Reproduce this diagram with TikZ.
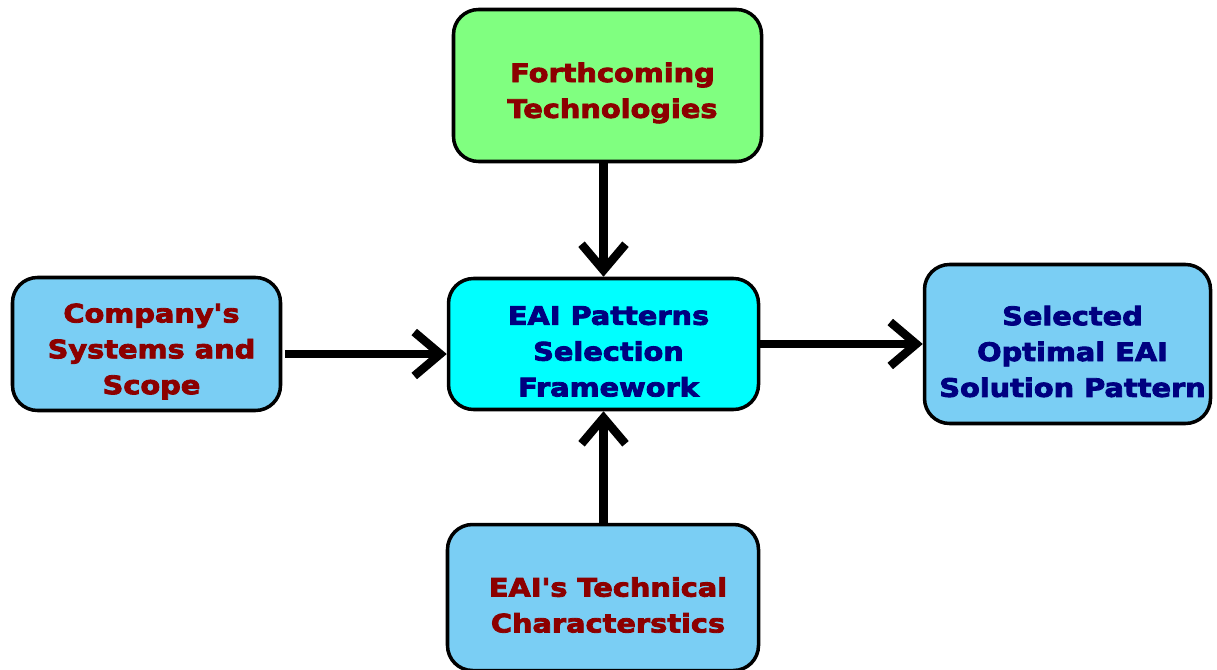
\documentclass[tikz,border=0pt]{standalone}
\usepackage{fontspec}
\newfontfamily\boxfont{DejaVu Sans}[FakeStretch=1.13, BoldFeatures={FakeBold=3.2}]
\usetikzlibrary{arrows.meta}
\definecolor{boxgreen}{RGB}{128,255,128}
\definecolor{boxblue}{RGB}{122,206,244}
\definecolor{boxcyan}{RGB}{0,255,255}
\definecolor{txtred}{RGB}{140,0,0}
\definecolor{txtnavy}{RGB}{0,0,128}
\tikzset{
  panel/.style={draw=black, line width=2pt, rounded corners=0.5cm, inner sep=0pt},
  caption/.style={font=\boxfont\bfseries\fontsize{14.5}{20.4}\selectfont, align=center, inner sep=0pt},
  flow/.style={line width=4.8pt, -{Straight Barb[length=0.52cm, width=0.88cm, line cap=butt, line join=miter]}}
}
\begin{document}
\begin{tikzpicture}
\useasboundingbox (0,0) rectangle (24.34,13.38);
\fill[white] (0,0) rectangle (24.34,13.38);

% boxes
\node[panel, fill=boxgreen, minimum width=6.16cm, minimum height=3.04cm] (tech) at (12.15,11.67) {};
\node[panel, fill=boxcyan, minimum width=6.2cm, minimum height=2.62cm] (hub) at (12.07,6.5) {};
\node[panel, fill=boxblue, minimum width=5.36cm, minimum height=2.66cm] (comp) at (2.93,6.5) {};
\node[panel, fill=boxblue, minimum width=5.72cm, minimum height=3.18cm] (sel) at (21.35,6.5) {};
\node[panel, fill=boxblue, minimum width=6.22cm, minimum height=2.92cm] (chars) at (12.06,1.43) {};

% captions
\node[caption, text=txtred] (techtxt) at ([xshift=0.1cm,yshift=-0.15cm]tech.center) {Forthcoming\\Technologies};
\node[caption, text=txtnavy] (hubtxt) at ([xshift=0.1cm,yshift=-0.15cm]hub.center) {EAI Patterns\\Selection\\Framework};
\node[caption, text=txtred] (comptxt) at ([xshift=0.1cm,yshift=-0.15cm]comp.center) {Company's\\Systems and\\Scope};
\node[caption, text=txtnavy] (seltxt) at ([xshift=0.1cm,yshift=-0.15cm]sel.center) {Selected\\Optimal EAI\\Solution Pattern};
\node[caption, text=txtred] (charstxt) at ([xshift=0.1cm,yshift=-0.15cm]chars.center) {EAI's Technical\\Characterstics};

% connectors
\draw[flow] (hub.north |- tech.south) -- (hub.north);
\draw[flow, shorten <=0.06cm] ([yshift=-0.2cm]comp.east) -- ([yshift=-0.2cm]hub.west);
\draw[flow] (hub.east) -- (sel.west |- hub.east);
\draw[flow] (hub.south |- chars.north) -- (hub.south);
\end{tikzpicture}
\end{document}
